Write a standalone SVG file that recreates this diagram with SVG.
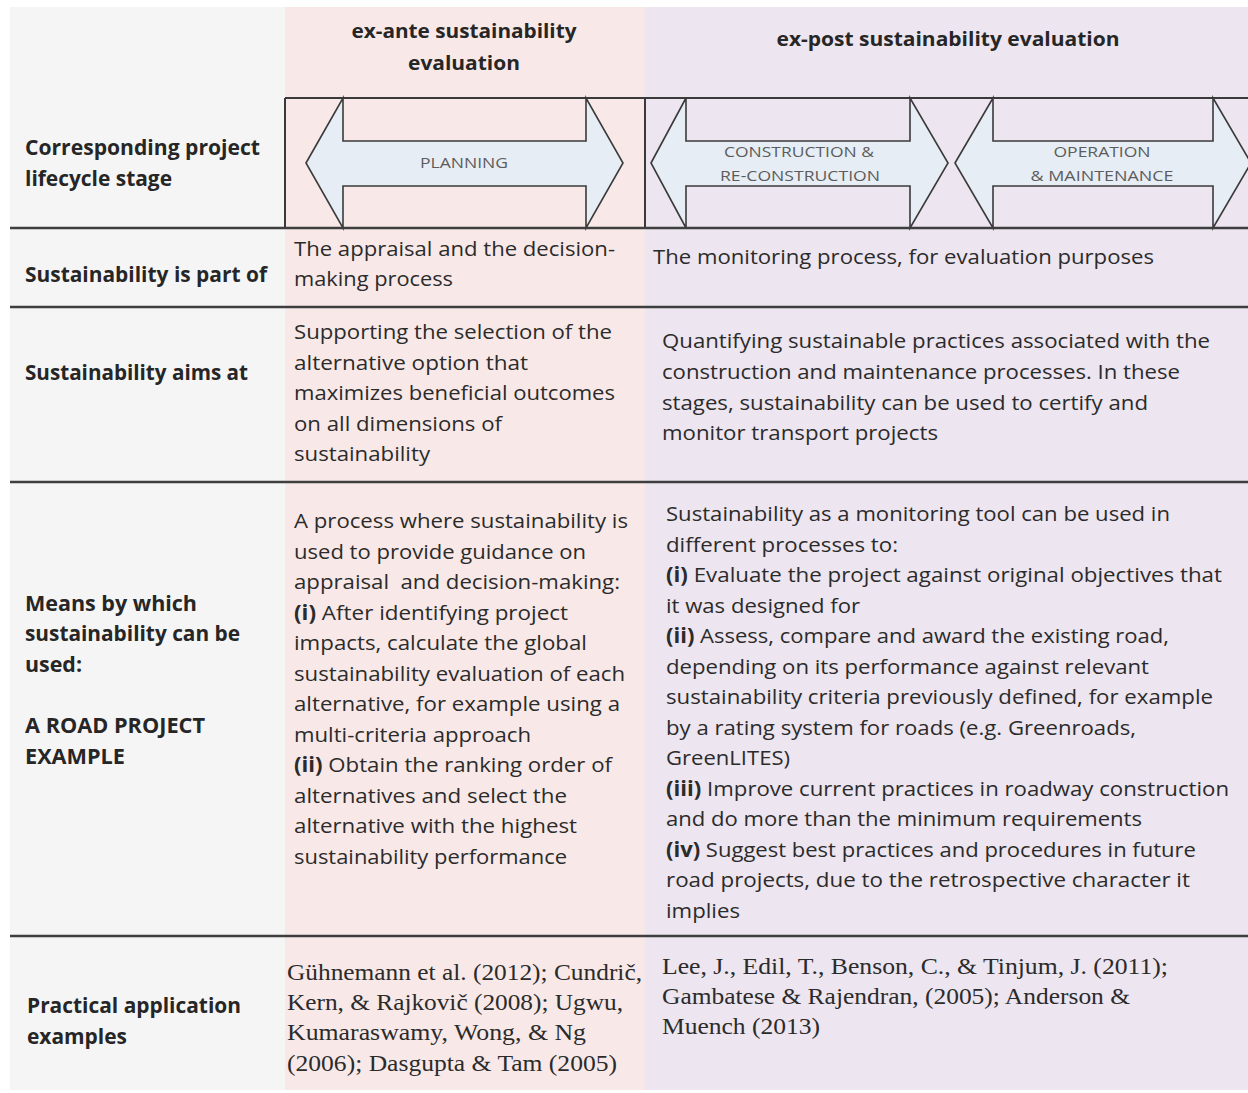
<svg xmlns="http://www.w3.org/2000/svg" width="1248" height="1093" viewBox="0 0 1248 1093">
<style>
  .hdr{font-family:"Open Sans","Liberation Sans",sans-serif;font-weight:700;font-size:19.5px;fill:#262626}
  .lbl{font-family:"Open Sans","Liberation Sans",sans-serif;font-weight:700;font-size:20.5px;fill:#262626}
  .body{font-family:"Open Sans","Liberation Sans",sans-serif;font-weight:400;font-size:20.5px;fill:#2b2b2b}
  .b{font-weight:700}
  .ref{font-family:"Liberation Serif","Times New Roman",serif;font-size:23.5px;fill:#2b2b2b}
  .stage{font-family:"Open Sans","Liberation Sans",sans-serif;font-size:15px;fill:#5c5c5c}
  .arrow{fill:#e6edf4;stroke:#3a3a3a;stroke-width:1.6;stroke-linejoin:miter}
  .rule{stroke:#3e3e3e;stroke-width:2.5;fill:none}
  .frame{stroke:#3a3a3a;stroke-width:2;fill:none}
  .mid{text-anchor:middle}
</style>
<rect x="0" y="0" width="1248" height="1093" fill="#ffffff"/>
<g id="backgrounds">
  <rect x="10" y="7" width="275" height="1083" fill="#f6f5f5"/>
  <rect x="285" y="7" width="360" height="1083" fill="#f8e9e8"/>
  <rect x="645" y="7" width="603" height="1083" fill="#ede5ef"/>
</g>
<g id="header-exante">
  <text class="hdr mid" x="464" y="38" textLength="225" lengthAdjust="spacingAndGlyphs">ex-ante sustainability</text>
  <text class="hdr mid" x="464" y="70" textLength="112" lengthAdjust="spacingAndGlyphs">evaluation</text>
</g>
<g id="header-expost">
  <text class="hdr mid" x="948" y="46" textLength="343" lengthAdjust="spacingAndGlyphs">ex-post sustainability evaluation</text>
</g>
<g id="stage-frame">
  <line class="frame" x1="285" y1="98" x2="1248" y2="98"/>
  <line class="frame" x1="285" y1="98" x2="285" y2="228"/>
  <line class="frame" x1="645" y1="98" x2="645" y2="228"/>
</g>
<g id="planning">
  <polygon class="arrow" points="306,163 343,98 343,141 586,141 586,98 623,163 586,228 586,186 343,186 343,228"/>
  <text class="stage mid" x="464" y="168" textLength="88" lengthAdjust="spacingAndGlyphs">PLANNING</text>
</g>
<g id="construction">
  <polygon class="arrow" points="651,163 686,98 686,141 910,141 910,98 948,163 910,228 910,186 686,186 686,228"/>
  <text class="stage mid" x="799" y="157" textLength="150" lengthAdjust="spacingAndGlyphs">CONSTRUCTION &amp;</text>
  <text class="stage mid" x="800" y="181" textLength="160" lengthAdjust="spacingAndGlyphs">RE-CONSTRUCTION</text>
</g>
<g id="operation">
  <polygon class="arrow" points="955,163 993,98 993,141 1213,141 1213,98 1251,163 1213,228 1213,186 993,186 993,228"/>
  <text class="stage mid" x="1102" y="157" textLength="97" lengthAdjust="spacingAndGlyphs">OPERATION</text>
  <text class="stage mid" x="1102" y="181" textLength="143" lengthAdjust="spacingAndGlyphs">&amp; MAINTENANCE</text>
</g>
<g id="connectors">
  <line class="rule" x1="10" y1="228" x2="1248" y2="228"/>
  <line class="rule" x1="10" y1="307" x2="1248" y2="307"/>
  <line class="rule" x1="10" y1="482" x2="1248" y2="482"/>
  <line class="rule" x1="10" y1="936" x2="1248" y2="936"/>
</g>
<g id="label-lifecycle">
  <text class="lbl" x="25" y="155" textLength="235" lengthAdjust="spacingAndGlyphs">Corresponding project</text>
  <text class="lbl" x="25" y="186" textLength="147" lengthAdjust="spacingAndGlyphs">lifecycle stage</text>
</g>
<g id="label-partof">
  <text class="lbl" x="25" y="282" textLength="242" lengthAdjust="spacingAndGlyphs">Sustainability is part of</text>
</g>
<g id="label-aims">
  <text class="lbl" x="25" y="380" textLength="223" lengthAdjust="spacingAndGlyphs">Sustainability aims at</text>
</g>
<g id="label-means">
  <text class="lbl" x="25" y="611" textLength="172" lengthAdjust="spacingAndGlyphs">Means by which</text>
  <text class="lbl" x="25" y="641" textLength="215" lengthAdjust="spacingAndGlyphs">sustainability can be</text>
  <text class="lbl" x="25" y="672" textLength="57" lengthAdjust="spacingAndGlyphs">used:</text>
  <text class="lbl" x="25" y="733" textLength="180" lengthAdjust="spacingAndGlyphs">A ROAD PROJECT</text>
  <text class="lbl" x="25" y="764" textLength="100" lengthAdjust="spacingAndGlyphs">EXAMPLE</text>
</g>
<g id="label-practical">
  <text class="lbl" x="27" y="1013" textLength="214" lengthAdjust="spacingAndGlyphs">Practical application</text>
  <text class="lbl" x="27" y="1044" textLength="100" lengthAdjust="spacingAndGlyphs">examples</text>
</g>
<g id="exante-partof">
  <text class="body" x="294" y="256" textLength="321" lengthAdjust="spacingAndGlyphs">The appraisal and the decision-</text>
  <text class="body" x="294" y="286" textLength="159" lengthAdjust="spacingAndGlyphs">making process</text>
</g>
<g id="expost-partof">
  <text class="body" x="653" y="264" textLength="501" lengthAdjust="spacingAndGlyphs">The monitoring process, for evaluation purposes</text>
</g>
<g id="exante-aims">
  <text class="body" x="294" y="339" textLength="318" lengthAdjust="spacingAndGlyphs">Supporting the selection of the</text>
  <text class="body" x="294" y="370" textLength="234" lengthAdjust="spacingAndGlyphs">alternative option that</text>
  <text class="body" x="294" y="400" textLength="321" lengthAdjust="spacingAndGlyphs">maximizes beneficial outcomes</text>
  <text class="body" x="294" y="431" textLength="208" lengthAdjust="spacingAndGlyphs">on all dimensions of</text>
  <text class="body" x="294" y="461" textLength="136" lengthAdjust="spacingAndGlyphs">sustainability</text>
</g>
<g id="expost-aims">
  <text class="body" x="662" y="348" textLength="548" lengthAdjust="spacingAndGlyphs">Quantifying sustainable practices associated with the</text>
  <text class="body" x="662" y="379" textLength="518" lengthAdjust="spacingAndGlyphs">construction and maintenance processes. In these</text>
  <text class="body" x="662" y="410" textLength="486" lengthAdjust="spacingAndGlyphs">stages, sustainability can be used to certify and</text>
  <text class="body" x="662" y="440" textLength="276" lengthAdjust="spacingAndGlyphs">monitor transport projects</text>
</g>
<g id="exante-means">
  <text class="body" x="294" y="528" textLength="334" lengthAdjust="spacingAndGlyphs">A process where sustainability is</text>
  <text class="body" x="294" y="559" textLength="292" lengthAdjust="spacingAndGlyphs">used to provide guidance on</text>
  <text class="body" x="294" y="589" textLength="326" lengthAdjust="spacingAndGlyphs" xml:space="preserve">appraisal  and decision-making:</text>
  <text class="body" x="294" y="620" textLength="274" lengthAdjust="spacingAndGlyphs"><tspan class="b">(i)</tspan> After identifying project</text>
  <text class="body" x="294" y="650" textLength="293" lengthAdjust="spacingAndGlyphs">impacts, calculate the global</text>
  <text class="body" x="294" y="681" textLength="331" lengthAdjust="spacingAndGlyphs">sustainability evaluation of each</text>
  <text class="body" x="294" y="711" textLength="326" lengthAdjust="spacingAndGlyphs">alternative, for example using a</text>
  <text class="body" x="294" y="742" textLength="237" lengthAdjust="spacingAndGlyphs">multi-criteria approach</text>
  <text class="body" x="294" y="772" textLength="318" lengthAdjust="spacingAndGlyphs"><tspan class="b">(ii)</tspan> Obtain the ranking order of</text>
  <text class="body" x="294" y="803" textLength="273" lengthAdjust="spacingAndGlyphs">alternatives and select the</text>
  <text class="body" x="294" y="833" textLength="283" lengthAdjust="spacingAndGlyphs">alternative with the highest</text>
  <text class="body" x="294" y="864" textLength="273" lengthAdjust="spacingAndGlyphs">sustainability performance</text>
</g>
<g id="expost-means">
  <text class="body" x="666" y="521" textLength="504" lengthAdjust="spacingAndGlyphs">Sustainability as a monitoring tool can be used in</text>
  <text class="body" x="666" y="551.5" textLength="232" lengthAdjust="spacingAndGlyphs">different processes to:</text>
  <text class="body" x="666" y="582" textLength="556" lengthAdjust="spacingAndGlyphs"><tspan class="b">(i)</tspan> Evaluate the project against original objectives that</text>
  <text class="body" x="666" y="612.5" textLength="194" lengthAdjust="spacingAndGlyphs">it was designed for</text>
  <text class="body" x="666" y="643" textLength="503" lengthAdjust="spacingAndGlyphs"><tspan class="b">(ii)</tspan> Assess, compare and award the existing road,</text>
  <text class="body" x="666" y="673.5" textLength="483" lengthAdjust="spacingAndGlyphs">depending on its performance against relevant</text>
  <text class="body" x="666" y="704" textLength="547" lengthAdjust="spacingAndGlyphs">sustainability criteria previously defined, for example</text>
  <text class="body" x="666" y="734.5" textLength="470" lengthAdjust="spacingAndGlyphs">by a rating system for roads (e.g. Greenroads,</text>
  <text class="body" x="666" y="765" textLength="124" lengthAdjust="spacingAndGlyphs">GreenLITES)</text>
  <text class="body" x="666" y="795.5" textLength="563" lengthAdjust="spacingAndGlyphs"><tspan class="b">(iii)</tspan> Improve current practices in roadway construction</text>
  <text class="body" x="666" y="826" textLength="476" lengthAdjust="spacingAndGlyphs">and do more than the minimum requirements</text>
  <text class="body" x="666" y="856.5" textLength="530" lengthAdjust="spacingAndGlyphs"><tspan class="b">(iv)</tspan> Suggest best practices and procedures in future</text>
  <text class="body" x="666" y="887" textLength="524" lengthAdjust="spacingAndGlyphs">road projects, due to the retrospective character it</text>
  <text class="body" x="666" y="917.5" textLength="74" lengthAdjust="spacingAndGlyphs">implies</text>
</g>
<g id="exante-practical">
  <text class="ref" x="287" y="980" textLength="355" lengthAdjust="spacingAndGlyphs">Gühnemann et al. (2012); Cundrič,</text>
  <text class="ref" x="287" y="1010" textLength="336" lengthAdjust="spacingAndGlyphs">Kern, &amp; Rajkovič (2008); Ugwu,</text>
  <text class="ref" x="287" y="1040" textLength="299" lengthAdjust="spacingAndGlyphs">Kumaraswamy, Wong, &amp; Ng</text>
  <text class="ref" x="287" y="1071" textLength="330" lengthAdjust="spacingAndGlyphs">(2006); Dasgupta &amp; Tam (2005)</text>
</g>
<g id="expost-practical">
  <text class="ref" x="662" y="974" textLength="506" lengthAdjust="spacingAndGlyphs">Lee, J., Edil, T., Benson, C., &amp; Tinjum, J. (2011);</text>
  <text class="ref" x="662" y="1004" textLength="468" lengthAdjust="spacingAndGlyphs">Gambatese &amp; Rajendran, (2005); Anderson &amp;</text>
  <text class="ref" x="662" y="1034" textLength="158" lengthAdjust="spacingAndGlyphs">Muench (2013)</text>
</g>
</svg>
